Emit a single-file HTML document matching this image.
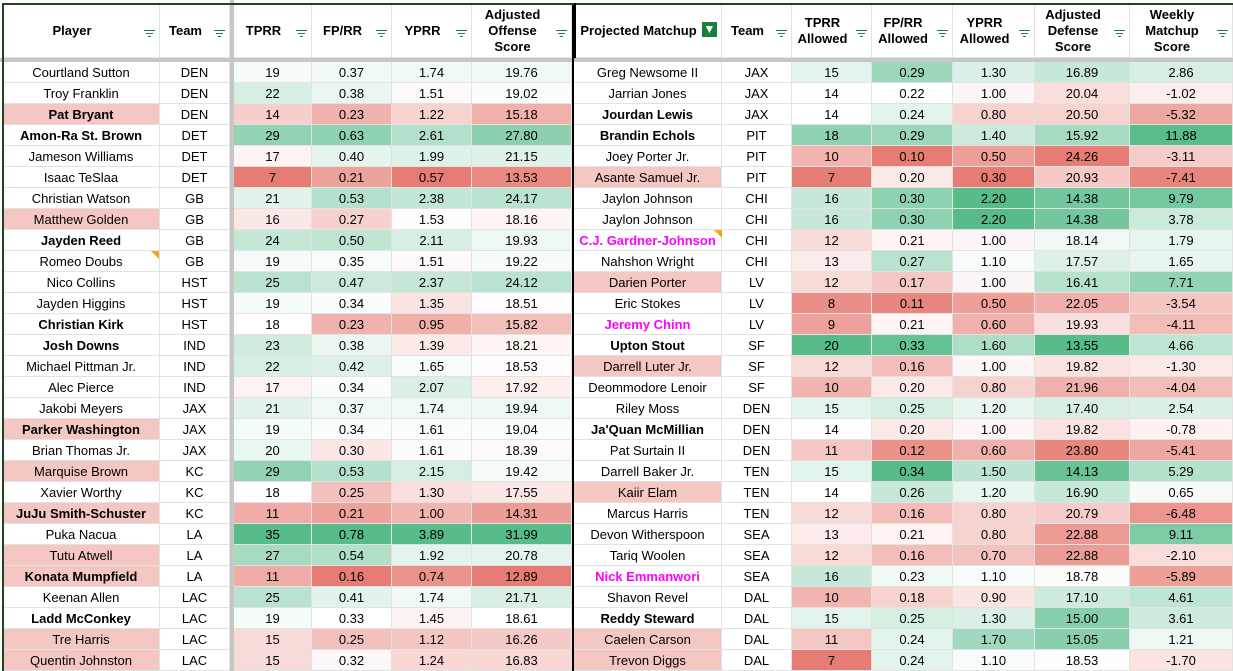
<!DOCTYPE html>
<html><head><meta charset="utf-8">
<style>
body{margin:0;width:1233px;height:671px;overflow:hidden;background:#fff;font-family:"Liberation Sans",Arial,sans-serif;position:relative}
.c{position:absolute;box-sizing:border-box;border-right:1px solid #e2e2e2;border-bottom:1px solid #e2e2e2;font-size:13px;color:#000;display:flex;align-items:center;justify-content:center;white-space:nowrap;overflow:hidden}
.h{font-weight:bold;text-align:center;line-height:16px;font-size:13px;border-right:1px solid #e2e2e2}
.fi{position:absolute;width:11px;height:8px}
.fi i{position:absolute;height:1px;background:#188038;left:0}
.ln{position:absolute}
</style></head><body>
<div id="root"></div>
<script>
var X1=[3,160,230],X2=[234,312,392,472,572],X3=[574,722,792,872,953,1035,1130,1233];
var off=[
["Courtland Sutton","DEN",19,.37,1.74,19.76,0,0],["Troy Franklin","DEN",22,.38,1.51,19.02,0,0],["Pat Bryant","DEN",14,.23,1.22,15.18,1,1],["Amon-Ra St. Brown","DET",29,.63,2.61,27.80,1,0],["Jameson Williams","DET",17,.40,1.99,21.15,0,0],["Isaac TeSlaa","DET",7,.21,.57,13.53,0,0],["Christian Watson","GB",21,.53,2.38,24.17,0,0],["Matthew Golden","GB",16,.27,1.53,18.16,0,1],["Jayden Reed","GB",24,.50,2.11,19.93,1,0],["Romeo Doubs","GB",19,.35,1.51,19.22,0,0],["Nico Collins","HST",25,.47,2.37,24.12,0,0],["Jayden Higgins","HST",19,.34,1.35,18.51,0,0],["Christian Kirk","HST",18,.23,.95,15.82,1,0],["Josh Downs","IND",23,.38,1.39,18.21,1,0],["Michael Pittman Jr.","IND",22,.42,1.65,18.53,0,0],["Alec Pierce","IND",17,.34,2.07,17.92,0,0],["Jakobi Meyers","JAX",21,.37,1.74,19.94,0,0],["Parker Washington","JAX",19,.34,1.61,19.04,1,1],["Brian Thomas Jr.","JAX",20,.30,1.61,18.39,0,0],["Marquise Brown","KC",29,.53,2.15,19.42,0,1],["Xavier Worthy","KC",18,.25,1.30,17.55,0,0],["JuJu Smith-Schuster","KC",11,.21,1.00,14.31,1,1],["Puka Nacua","LA",35,.78,3.89,31.99,0,0],["Tutu Atwell","LA",27,.54,1.92,20.78,0,1],["Konata Mumpfield","LA",11,.16,.74,12.89,1,1],["Keenan Allen","LAC",25,.41,1.74,21.71,0,0],["Ladd McConkey","LAC",19,.33,1.45,18.61,1,0],["Tre Harris","LAC",15,.25,1.12,16.26,0,1],["Quentin Johnston","LAC",15,.32,1.24,16.83,0,1]];
var def=[
["Greg Newsome II","JAX",15,.29,1.30,16.89,2.86,0,0],["Jarrian Jones","JAX",14,.22,1.00,20.04,-1.02,0,0],["Jourdan Lewis","JAX",14,.24,.80,20.50,-5.32,1,0],["Brandin Echols","PIT",18,.29,1.40,15.92,11.88,1,0],["Joey Porter Jr.","PIT",10,.10,.50,24.26,-3.11,0,0],["Asante Samuel Jr.","PIT",7,.20,.30,20.93,-7.41,0,1],["Jaylon Johnson","CHI",16,.30,2.20,14.38,9.79,0,0],["Jaylon Johnson","CHI",16,.30,2.20,14.38,3.78,0,0],["C.J. Gardner-Johnson","CHI",12,.21,1.00,18.14,1.79,2,0],["Nahshon Wright","CHI",13,.27,1.10,17.57,1.65,0,0],["Darien Porter","LV",12,.17,1.00,16.41,7.71,0,1],["Eric Stokes","LV",8,.11,.50,22.05,-3.54,0,0],["Jeremy Chinn","LV",9,.21,.60,19.93,-4.11,2,0],["Upton Stout","SF",20,.33,1.60,13.55,4.66,1,0],["Darrell Luter Jr.","SF",12,.16,1.00,19.82,-1.30,0,1],["Deommodore Lenoir","SF",10,.20,.80,21.96,-4.04,0,0],["Riley Moss","DEN",15,.25,1.20,17.40,2.54,0,0],["Ja'Quan McMillian","DEN",14,.20,1.00,19.82,-.78,1,0],["Pat Surtain II","DEN",11,.12,.60,23.80,-5.41,0,0],["Darrell Baker Jr.","TEN",15,.34,1.50,14.13,5.29,0,0],["Kaiir Elam","TEN",14,.26,1.20,16.90,.65,0,1],["Marcus Harris","TEN",12,.16,.80,20.79,-6.48,0,0],["Devon Witherspoon","SEA",13,.21,.80,22.88,9.11,0,0],["Tariq Woolen","SEA",12,.16,.70,22.88,-2.10,0,0],["Nick Emmanwori","SEA",16,.23,1.10,18.78,-5.89,2,0],["Shavon Revel","DAL",10,.18,.90,17.10,4.61,0,0],["Reddy Steward","DAL",15,.25,1.30,15.00,3.61,1,0],["Caelen Carson","DAL",11,.24,1.70,15.05,1.21,0,1],["Trevon Diggs","DAL",7,.24,1.10,18.53,-1.70,0,1]];
var G=[87,187,138],R=[230,124,115];
function mix(a,t){return 'rgb('+[0,1,2].map(function(i){return Math.round(255+(a[i]-255)*t)}).join(',')+')'}
function scale(v,min,mid,max,inv){var t;if(inv){v=-v;var m=min;min=-max;max=-m;mid=-mid;}
 if(v>=mid){t=(v-mid)/(max-mid);return mix(G,Math.min(1,t))}else{t=(mid-v)/(mid-min);return mix(R,Math.min(1,t))}}
var h='';
function cell(x0,x1,y,hgt,txt,st){h+='<div class="c" style="left:'+x0+'px;top:'+y+'px;width:'+(x1-x0)+'px;height:'+hgt+'px;'+(st||'')+'">'+txt+'</div>'}
function fil(x,y){h+='<div class="fi" style="left:'+x+'px;top:'+y+'px"><i style="top:0;width:11px"></i><i style="top:3px;left:2px;width:7px"></i><i style="top:6px;left:4px;width:3px"></i></div>'}
var hy=4,hh=54;
function head(x0,x1,t,f){h+='<div class="c h" style="left:'+x0+'px;top:'+hy+'px;width:'+(x1-x0)+'px;height:'+hh+'px;padding-right:18px">'+t+'</div>';if(f)fil(x1-16,hy+26)}
head(3,160,'Player',1);head(160,230,'Team',1);
head(234,312,'TPRR',1);head(312,392,'FP/RR',1);head(392,472,'YPRR',1);head(472,572,'Adjusted<br>Offense<br>Score',1);
head(574,722,'Projected Matchup',0);h+='<div style="position:absolute;left:702px;top:22px;width:15px;height:15px;background:#188038;color:#fff;font-size:12px;font-weight:bold;text-align:center;line-height:15px">&#9660;</div>';
head(722,792,'Team',1);head(792,872,'TPRR<br>Allowed',1);head(872,953,'FP/RR<br>Allowed',1);head(953,1035,'YPRR<br>Allowed',1);head(1035,1130,'Adjusted<br>Defense<br>Score',1);head(1130,1233,'Weekly<br>Matchup<br>Score',1);
var oMid=[18,.33,1.55,18.6],dMid=[14,.22,1.05,18.6,0];
function col(arr,i){return arr.map(function(r){return r[i]})}
for(var r=0;r<29;r++){var y=62+r*21,o=off[r],d=def[r];
 cell(3,160,y,21,o[0],(o[6]?'font-weight:bold;':'')+(o[7]?'background:#f4c7c3;':''));
 cell(160,230,y,21,o[1]);
 for(var k=0;k<4;k++){var c=col(off,2+k),v=o[2+k];cell(X2[k],X2[k+1],y,21,k==0?v:v.toFixed(2),'background:'+scale(v,Math.min.apply(0,c),oMid[k],Math.max.apply(0,c),0))}
 var ns=(d[7]==1?'font-weight:bold;':d[7]==2?'font-weight:bold;color:#ff00ff;':'')+(d[8]?'background:#f4c7c3;':'');
 cell(574,722,y,21,d[0],ns);cell(722,792,y,21,d[1]);
 for(var k=0;k<5;k++){var c=col(def,2+k),v=d[2+k];var mn=Math.min.apply(0,c),mx=Math.max.apply(0,c);
  if(k==4){mn=-8;mx=12}
  cell(X3[k+2],X3[k+3],y,21,k==0?v:v.toFixed(2),'background:'+scale(v,mn,dMid[k],mx,k==3))}
}
h+='<div class="ln" style="left:230px;top:0;width:4px;height:671px;background:#c7c7c7"></div>';
h+='<div class="ln" style="left:0;top:58px;width:1233px;height:4px;background:#c7c7c7"></div>';
h+='<div class="ln" style="left:572px;top:3px;width:2px;height:668px;background:#000"></div>';
h+='<div class="ln" style="left:2px;top:3px;width:1231px;height:2px;background:#1e4620"></div>';
h+='<div class="ln" style="left:2px;top:3px;width:2px;height:668px;background:#1e4620"></div>';
h+='<div class="ln" style="left:574px;top:3px;width:2px;height:55px;background:#000"></div>';
h+='<div class="ln" style="left:151px;top:251px;width:0;height:0;border-left:8px solid transparent;border-top:8px solid #f4a623"></div>';
h+='<div class="ln" style="left:714px;top:230px;width:0;height:0;border-left:8px solid transparent;border-top:8px solid #f4a623"></div>';
document.getElementById('root').innerHTML=h;
</script>
</body></html>
